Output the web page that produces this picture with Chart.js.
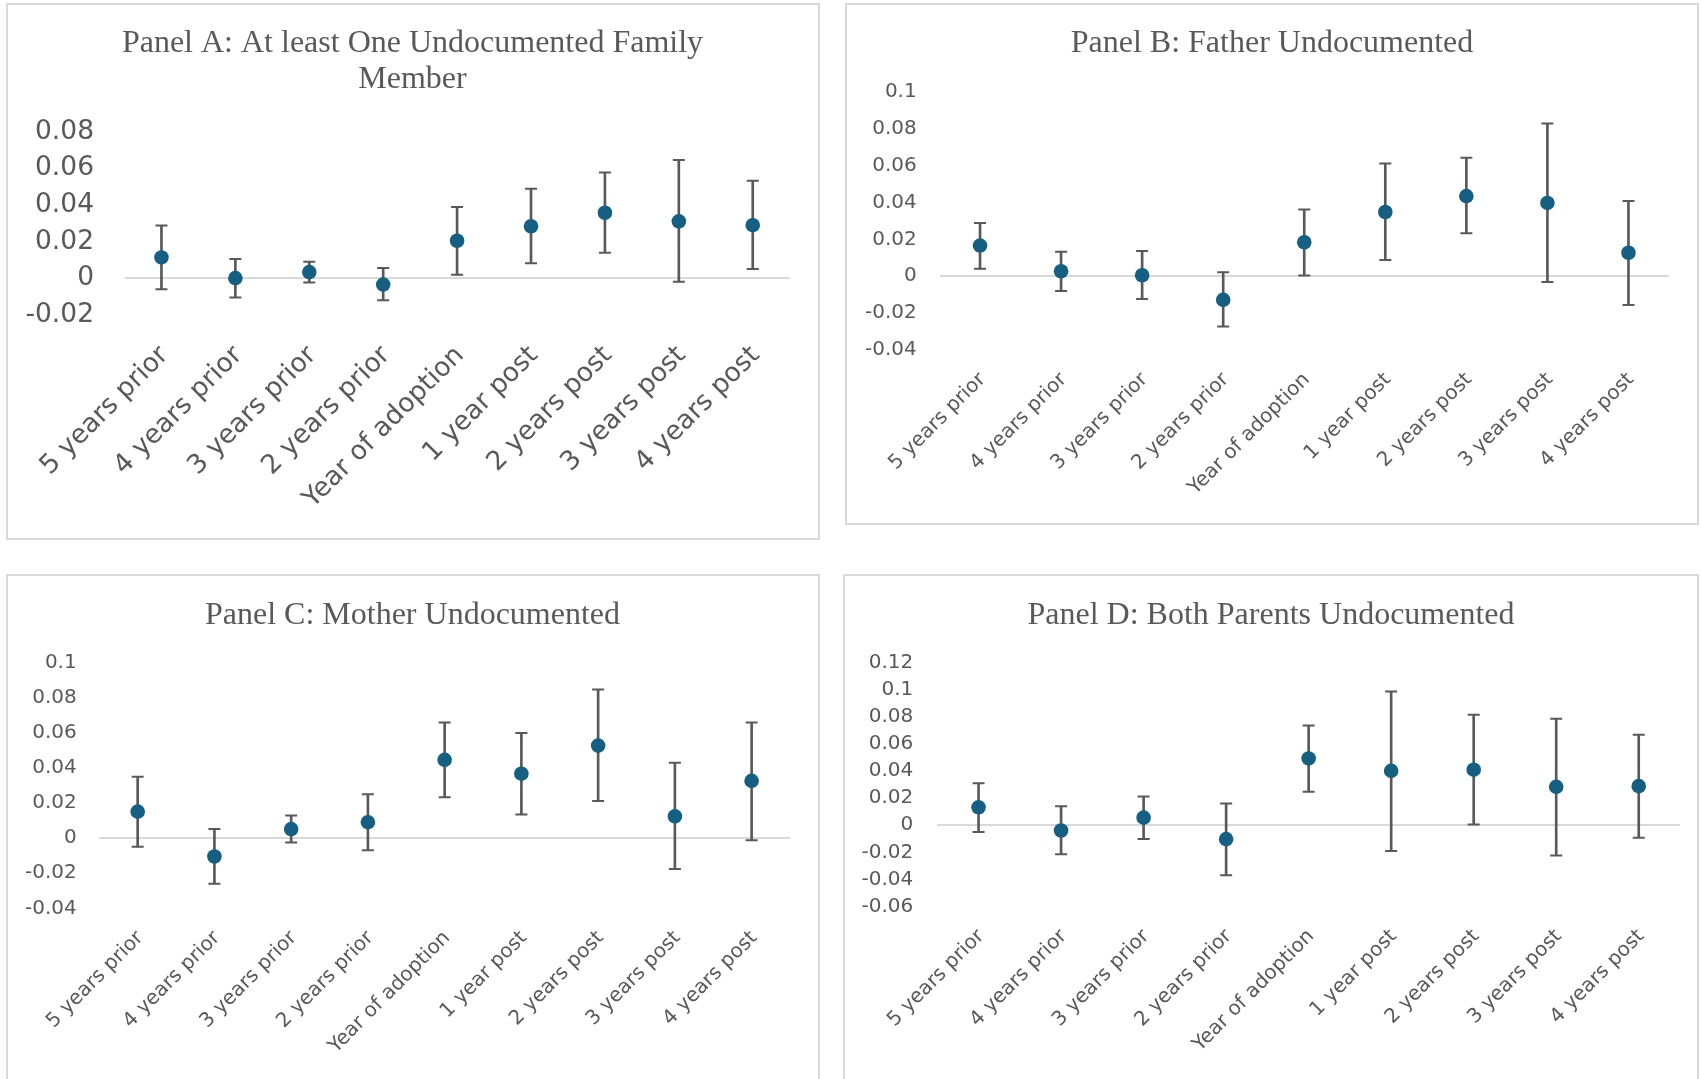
<!DOCTYPE html>
<html>
<head>
<meta charset="utf-8">
<script src="https://cdn.jsdelivr.net/npm/chart.js@4.4.1/dist/chart.umd.min.js"></script>
<style>
  html, body { margin: 0; padding: 0; background: #ffffff; }
  body { width: 1701px; height: 1079px; position: relative; overflow: hidden; }
  .panel { position: absolute; box-sizing: border-box; border: 2px solid #d9d9d9; }
  canvas { position: absolute; }
</style>
</head>
<body>
<div class="panel" style="left:6px;top:3px;width:814px;height:537px"></div>
<div class="panel" style="left:845px;top:3px;width:854px;height:522px"></div>
<div class="panel" style="left:6px;top:574px;width:814px;height:530px"></div>
<div class="panel" style="left:843px;top:574px;width:856px;height:530px"></div>

<canvas id="chartA" width="811" height="535" style="left:7px;top:4px"></canvas>
<canvas id="chartB" width="850" height="520" style="left:847px;top:4px"></canvas>
<canvas id="chartC" width="811" height="503" style="left:7px;top:576px"></canvas>
<canvas id="chartD" width="852" height="503" style="left:845px;top:576px"></canvas>

<script>
// Event-time categories shared by all four panels
const categories = ['5 years prior', '4 years prior', '3 years prior', '2 years prior',
  'Year of adoption', '1 year post', '2 years post', '3 years post', '4 years post'];

// Panel A: at least one undocumented family member
const panelAEstimate = [0.0114, 0.0001, 0.0034, -0.0034, 0.0205, 0.0284, 0.0358, 0.0311, 0.0290];
const panelALower    = [-0.0060, -0.0104, -0.0023, -0.0119, 0.0019, 0.0082, 0.0140, -0.0019, 0.0051];
const panelAUpper    = [0.0288, 0.0106, 0.0091, 0.0057, 0.0389, 0.0489, 0.0578, 0.0645, 0.0533];

// Panel B: father undocumented
const panelBEstimate = [0.0166, 0.0027, 0.0005, -0.0128, 0.0184, 0.0348, 0.0434, 0.0397, 0.0127];
const panelBLower    = [0.0040, -0.0080, -0.0124, -0.0272, 0.0004, 0.0088, 0.0233, -0.0031, -0.0156];
const panelBUpper    = [0.0288, 0.0133, 0.0137, 0.0022, 0.0361, 0.0611, 0.0642, 0.0828, 0.0408];

// Panel C: mother undocumented
const panelCEstimate = [0.0150, -0.0105, 0.0051, 0.0090, 0.0445, 0.0366, 0.0526, 0.0123, 0.0325];
const panelCLower    = [-0.0050, -0.0260, -0.0025, -0.0070, 0.0232, 0.0134, 0.0211, -0.0177, -0.0013];
const panelCUpper    = [0.0348, 0.0052, 0.0128, 0.0249, 0.0657, 0.0598, 0.0845, 0.0428, 0.0658];

// Panel D: both parents undocumented
const panelDEstimate = [0.0132, -0.0039, 0.0056, -0.0102, 0.0492, 0.0400, 0.0409, 0.0283, 0.0288];
const panelDLower    = [-0.0050, -0.0213, -0.0102, -0.0368, 0.0247, -0.0189, 0.0005, -0.0223, -0.0092];
const panelDUpper    = [0.0310, 0.0140, 0.0211, 0.0160, 0.0734, 0.0985, 0.0814, 0.0785, 0.0666];

// Value-axis ranges [min, max]
const panelARange = [-0.02, 0.08];
const panelBRange = [-0.04, 0.10];
const panelCRange = [-0.04, 0.10];
const panelDRange = [-0.06, 0.12];

const ACCENT = '#156082';
const WHISKER = '#595959';
const TEXT = '#595959';
const ZERO_LINE = '#d9d9d9';
const SANS = "'DejaVu Sans', 'Open Sans', sans-serif";
const SERIF = "'Liberation Serif', 'Times New Roman', serif";
const TITLE_SIZE = 32;
const TITLE_LINE = 36.3;

function buildPanel(id, title, estimate, lower, upper, range, L) {
  const whiskerPoints = (values) => ({
    type: 'line',
    data: values,
    showLine: false,
    pointStyle: 'line',
    pointRadius: 6,
    pointHoverRadius: 6,
    pointBorderColor: WHISKER,
    pointBorderWidth: 2,
    order: 1
  });

  return new Chart(document.getElementById(id), {
    type: 'bar',
    data: {
      labels: categories,
      datasets: [
        {
          type: 'line',
          label: 'Estimate',
          data: estimate,
          showLine: false,
          pointRadius: 7.3,
          pointHoverRadius: 7.3,
          pointBackgroundColor: ACCENT,
          pointBorderWidth: 0,
          order: 0
        },
        {
          type: 'bar',
          label: 'Interval',
          data: lower.map((lo, i) => [lo, upper[i]]),
          backgroundColor: WHISKER,
          borderWidth: 0,
          barThickness: 2,
          order: 2
        },
        Object.assign({ label: 'Upper' }, whiskerPoints(upper)),
        Object.assign({ label: 'Lower' }, whiskerPoints(lower))
      ]
    },
    options: {
      responsive: false,
      animation: false,
      events: [],
      layout: { padding: 0 },
      plugins: {
        legend: { display: false },
        tooltip: { enabled: false },
        title: {
          display: true,
          text: title,
          color: TEXT,
          font: { family: SERIF, size: TITLE_SIZE, weight: 'normal', lineHeight: TITLE_LINE / TITLE_SIZE },
          padding: { top: L.titleTop, bottom: L.titleBottom }
        }
      },
      scales: {
        x: {
          offset: true,
          grid: { display: false },
          border: { display: false },
          ticks: {
            autoSkip: false,
            minRotation: 45,
            maxRotation: 45,
            color: TEXT,
            padding: L.xPad,
            labelOffset: L.xShift,
            font: { family: SANS, size: L.font }
          },
          afterFit: (scale) => { scale.height = L.xHeight; }
        },
        y: {
          min: range[0],
          max: range[1],
          grid: {
            drawTicks: false,
            lineWidth: 2,
            color: (c) => (c.tick && Math.abs(c.tick.value) < 1e-9) ? ZERO_LINE : 'rgba(0,0,0,0)'
          },
          border: { display: false },
          ticks: {
            stepSize: 0.02,
            color: TEXT,
            padding: L.yPad,
            font: { family: SANS, size: L.font },
            callback: (v) => String(+Number(v).toFixed(2))
          },
          afterFit: (scale) => { scale.width = L.plotLeft; }
        },
        // empty right-hand margin so the full-width title stays centred on the panel
        margin: {
          position: 'right',
          min: range[0],
          max: range[1],
          grid: { display: false },
          border: { display: false },
          ticks: { display: false },
          afterFit: (scale) => { scale.width = L.side; }
        }
      }
    }
  });
}

buildPanel('chartA', ['Panel A: At least One Undocumented Family', 'Member'],
  panelAEstimate, panelALower, panelAUpper, panelARange,
  { side: 28.3, plotLeft: 117.5, titleTop: 21.1, titleBottom: 34.0, xHeight: 224, yPad: 30.5, xPad: 17, xShift: 3, font: 26.5 });

buildPanel('chartB', 'Panel B: Father Undocumented',
  panelBEstimate, panelBLower, panelBUpper, panelBRange,
  { side: 28, plotLeft: 92.5, titleTop: 21.1, titleBottom: 30.3, xHeight: 174, yPad: 22.8, xPad: 10, xShift: 2.5, font: 20 });

buildPanel('chartC', 'Panel C: Mother Undocumented',
  panelCEstimate, panelCLower, panelCUpper, panelCRange,
  { side: 28, plotLeft: 92.3, titleTop: 21.2, titleBottom: 28.8, xHeight: 170.7, yPad: 22.6, xPad: 10, xShift: 2.5, font: 20 });

buildPanel('chartD', 'Panel D: Both Parents Undocumented',
  panelDEstimate, panelDLower, panelDUpper, panelDRange,
  { side: 17, plotLeft: 92.3, titleTop: 21.2, titleBottom: 28.8, xHeight: 172.3, yPad: 24, xPad: 10, xShift: 2.5, font: 20 });
</script>
</body>
</html>
